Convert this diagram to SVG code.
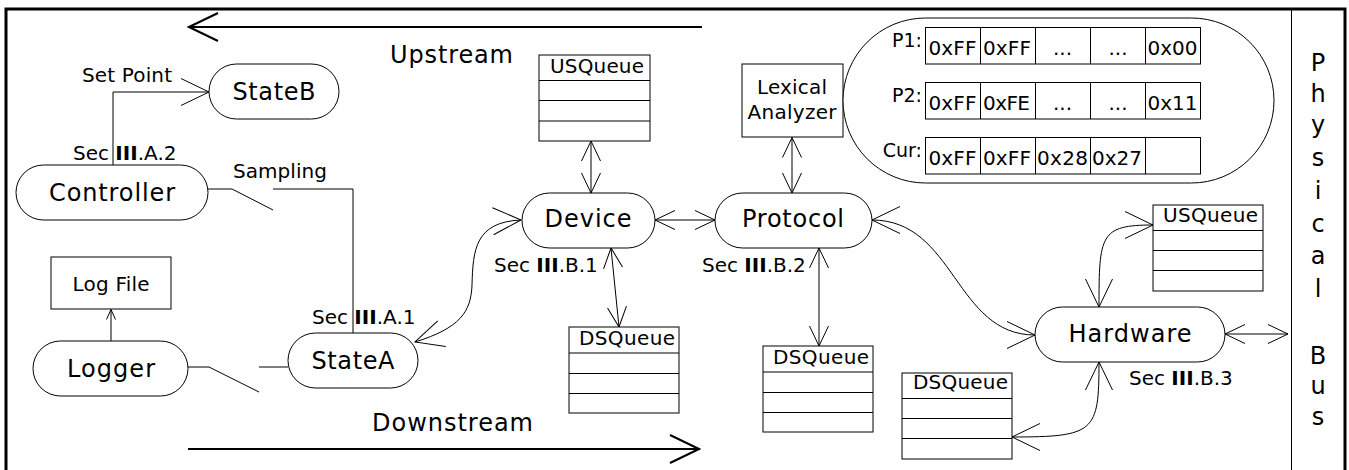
<svg xmlns="http://www.w3.org/2000/svg" width="1349" height="470" viewBox="0 0 1349 470">
<style>
text{font-family:"DejaVu Sans","Liberation Sans",sans-serif;fill:#000}
.n{font-size:24px;text-anchor:middle}
.s{font-size:20px}
.c{font-size:20px;text-anchor:middle}
.shape{fill:#fff;stroke:#000;stroke-width:1}
.ln{fill:none;stroke:#000;stroke-width:1}
.b{font-weight:bold}
</style>
<defs>
<marker id="big" markerUnits="userSpaceOnUse" viewBox="-30 -15 32 30" markerWidth="32" markerHeight="30" refX="0" refY="0" orient="auto-start-reverse"><path d="M-28,-13.5 L0,0 L-28,13.5" fill="none" stroke="#000" stroke-width="1"/></marker>
<marker id="med" markerUnits="userSpaceOnUse" viewBox="-22 -11 24 22" markerWidth="24" markerHeight="22" refX="0" refY="0" orient="auto-start-reverse"><path d="M-20,-9.5 L0,0 L-20,9.5" fill="none" stroke="#000" stroke-width="1"/></marker>
<marker id="sml" markerUnits="userSpaceOnUse" viewBox="-12 -6 14 12" markerWidth="14" markerHeight="12" refX="0" refY="0" orient="auto-start-reverse"><path d="M-10,-4.5 L0,0 L-10,4.5" fill="none" stroke="#000" stroke-width="1"/></marker>
<marker id="thk" markerUnits="userSpaceOnUse" viewBox="-31 -16 33 32" markerWidth="33" markerHeight="32" refX="0" refY="0" orient="auto-start-reverse"><path d="M-29,-14 L0,0 L-29,14" fill="none" stroke="#000" stroke-width="2"/></marker>
</defs>
<rect x="0" y="0" width="1349" height="470" fill="#fff"/>
<g id="frame">
<rect x="6" y="9" width="1339" height="500" fill="none" stroke="#000" stroke-width="3"/>
<line x1="1291.5" y1="9" x2="1291.5" y2="470" stroke="#000" stroke-width="1"/>
</g>
<g id="connectors">
<path class="ln" d="M113,165 V92 H209" marker-end="url(#big)"/>
<path class="ln" d="M208,189 H232 L273,210"/>
<path class="ln" d="M273,189 H353 V333"/>
<path class="ln" d="M188,367 H209 L259,392"/>
<path class="ln" d="M259,367 H288"/>
<path class="ln" d="M111,341 V309.5" marker-end="url(#sml)"/>
<path class="ln" d="M415,342 C460,328 471,312 472,285 C473,250 475,222 521,220" marker-start="url(#big)" marker-end="url(#big)"/>
<path class="ln" d="M591,141 V193" marker-start="url(#med)" marker-end="url(#med)"/>
<path class="ln" d="M655,220 H715" marker-start="url(#med)" marker-end="url(#med)"/>
<path class="ln" d="M792,137.5 V193" marker-start="url(#med)" marker-end="url(#med)"/>
<path class="ln" d="M611,248 L619,327" marker-start="url(#med)" marker-end="url(#med)"/>
<path class="ln" d="M819,248 V346" marker-start="url(#med)" marker-end="url(#med)"/>
<path class="ln" d="M872,220 C955,220 955,335 1035,335" marker-start="url(#big)" marker-end="url(#big)"/>
<path class="ln" d="M1099,307 C1099,235 1100,225 1153,225" marker-start="url(#big)" marker-end="url(#big)"/>
<path class="ln" d="M1099,362 C1099,432 1095,437 1012,437" marker-start="url(#big)" marker-end="url(#big)"/>
<path class="ln" d="M1225,334 H1288" marker-start="url(#med)" marker-end="url(#med)"/>
<path d="M702,27 H189" fill="none" stroke="#000" stroke-width="2" marker-end="url(#thk)"/>
<path d="M188,449 H699" fill="none" stroke="#000" stroke-width="2" marker-end="url(#thk)"/>
</g>
<g id="labels">
<text class="s" x="390" y="63" style="font-size:24px" textLength="123" lengthAdjust="spacing">Upstream</text>
<text class="s" x="372" y="431" style="font-size:24px" textLength="161" lengthAdjust="spacing">Downstream</text>
<text class="s" x="82" y="82" textLength="90" lengthAdjust="spacing">Set Point</text>
<text class="s" x="73" y="160">Sec <tspan class="b">III</tspan>.A.2</text>
<text class="s" x="233" y="178" textLength="94" lengthAdjust="spacing">Sampling</text>
<text class="s" x="312" y="324">Sec <tspan class="b">III</tspan>.A.1</text>
<text class="s" x="494" y="272">Sec <tspan class="b">III</tspan>.B.1</text>
<text class="s" x="702" y="272">Sec <tspan class="b">III</tspan>.B.2</text>
<text class="s" x="1129" y="385">Sec <tspan class="b">III</tspan>.B.3</text>
</g>
<g id="StateB"><rect class="shape" x="209" y="64" width="130" height="55" rx="27.5"/><text class="n" x="274" y="99.5" textLength="83" lengthAdjust="spacing">StateB</text></g>
<g id="Controller"><rect class="shape" x="16" y="165" width="192" height="55" rx="27.5"/><text class="n" x="112" y="201" textLength="126" lengthAdjust="spacing">Controller</text></g>
<g id="LogFile"><rect class="shape" x="51" y="257" width="120" height="52"/><text class="c" x="111" y="291" textLength="77" lengthAdjust="spacing">Log File</text></g>
<g id="Logger"><rect class="shape" x="33" y="341" width="155" height="55" rx="27.5"/><text class="n" x="111" y="377" textLength="88" lengthAdjust="spacing">Logger</text></g>
<g id="StateA"><rect class="shape" x="288" y="333" width="130" height="55" rx="27.5"/><text class="n" x="353" y="368.5" textLength="83" lengthAdjust="spacing">StateA</text></g>
<g id="Device"><rect class="shape" x="522" y="193" width="133" height="55" rx="27.5"/><text class="n" x="588" y="227" textLength="87" lengthAdjust="spacing">Device</text></g>
<g id="Protocol"><rect class="shape" x="715" y="193" width="157" height="55" rx="27.5"/><text class="n" x="793" y="227" textLength="102" lengthAdjust="spacing">Protocol</text></g>
<g id="Hardware"><rect class="shape" x="1035" y="307" width="190" height="55" rx="27.5"/><text class="n" x="1130" y="342" textLength="123" lengthAdjust="spacing">Hardware</text></g>
<g id="Lexical"><rect class="shape" x="742" y="64" width="101" height="73"/><text class="c" x="792" y="94" textLength="70" lengthAdjust="spacing">Lexical</text><text class="c" x="792" y="119" textLength="89" lengthAdjust="spacing">Analyzer</text></g>
<g id="USQueue1"><rect class="shape" x="539" y="55" width="111" height="86"/><path class="ln" d="M539,80.5 H650 M539,100.5 H650 M539,121 H650"/><text class="s" x="550" y="73" textLength="94" lengthAdjust="spacing">USQueue</text></g>
<g id="DSQueue1"><rect class="shape" x="569" y="327" width="110" height="86"/><path class="ln" d="M569,353 H679 M569,373.5 H679 M569,393.5 H679"/><text class="s" x="579" y="345" textLength="96" lengthAdjust="spacing">DSQueue</text></g>
<g id="DSQueue2"><rect class="shape" x="763" y="346" width="110" height="86"/><path class="ln" d="M763,372 H873 M763,392.5 H873 M763,412.5 H873"/><text class="s" x="773" y="364" textLength="96" lengthAdjust="spacing">DSQueue</text></g>
<g id="USQueue2"><rect class="shape" x="1153" y="205" width="110" height="86"/><path class="ln" d="M1153,230.5 H1263 M1153,250.5 H1263 M1153,270.5 H1263"/><text class="s" x="1163" y="222" textLength="95" lengthAdjust="spacing">USQueue</text></g>
<g id="DSQueue3"><rect class="shape" x="902" y="373" width="110" height="86"/><path class="ln" d="M902,398.5 H1012 M902,418.5 H1012 M902,438.5 H1012"/><text class="s" x="913" y="389" textLength="95" lengthAdjust="spacing">DSQueue</text></g>
<g id="Patterns">
<rect class="shape" x="843" y="18" width="431" height="165" rx="82.5"/>
<g class="ln">
<rect x="925.5" y="27.5" width="275" height="36.5"/>
<path d="M980.5,27.5 V64 M1035.5,27.5 V64 M1090.5,27.5 V64 M1145.5,27.5 V64"/>
<rect x="925.5" y="82.5" width="275" height="36.5"/>
<path d="M980.5,82.5 V119 M1035.5,82.5 V119 M1090.5,82.5 V119 M1145.5,82.5 V119"/>
<rect x="925.5" y="137.5" width="275" height="36.5"/>
<path d="M980.5,137.5 V174 M1035.5,137.5 V174 M1090.5,137.5 V174 M1145.5,137.5 V174"/>
</g>
<text class="s" x="922" y="46.5" text-anchor="end" style="font-size:19px">P1:</text>
<text class="s" x="922" y="101.5" text-anchor="end" style="font-size:19px">P2:</text>
<text class="s" x="922" y="156.5" text-anchor="end" style="font-size:19px">Cur:</text>
<text class="s" x="928.5" y="55" textLength="48" lengthAdjust="spacing">0xFF</text>
<text class="s" x="983" y="55" textLength="48" lengthAdjust="spacing">0xFF</text>
<text class="c" x="1062.5" y="55">...</text>
<text class="c" x="1118" y="55">...</text>
<text class="s" x="1147.5" y="55" textLength="50" lengthAdjust="spacing">0x00</text>
<text class="s" x="928.5" y="110" textLength="48" lengthAdjust="spacing">0xFF</text>
<text class="s" x="983" y="110" textLength="47" lengthAdjust="spacing">0xFE</text>
<text class="c" x="1062.5" y="110">...</text>
<text class="c" x="1118" y="110">...</text>
<text class="s" x="1147.5" y="110" textLength="50" lengthAdjust="spacing">0x11</text>
<text class="s" x="928.5" y="164.5" textLength="48" lengthAdjust="spacing">0xFF</text>
<text class="s" x="983" y="164.5" textLength="48" lengthAdjust="spacing">0xFF</text>
<text class="s" x="1037" y="164.5" textLength="51" lengthAdjust="spacing">0x28</text>
<text class="s" x="1092" y="164.5" textLength="50" lengthAdjust="spacing">0x27</text>
</g>
<g id="PhysicalBus">
<text class="n" x="1318" y="70.5">P</text>
<text class="n" x="1318" y="101.5">h</text>
<text class="n" x="1318" y="133">y</text>
<text class="n" x="1318" y="166">s</text>
<text class="n" x="1318" y="198.5">i</text>
<text class="n" x="1318" y="231.5">c</text>
<text class="n" x="1318" y="263.5">a</text>
<text class="n" x="1318" y="296.5">l</text>
<text class="n" x="1318" y="363.5">B</text>
<text class="n" x="1318" y="393.5">u</text>
<text class="n" x="1318" y="425">s</text>
</g>
</svg>
